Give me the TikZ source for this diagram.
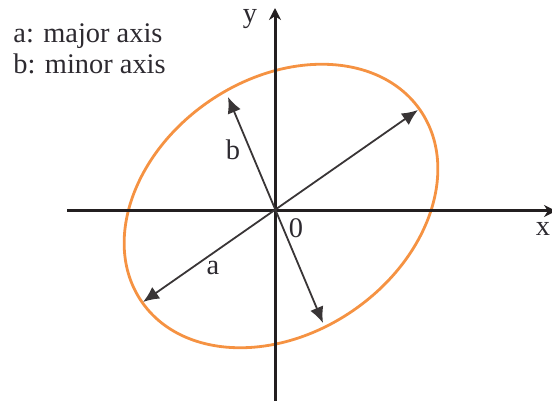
\documentclass[tikz,border=0pt]{standalone}
\usepackage{fontspec}
\setmainfont{Liberation Serif}
\usetikzlibrary{arrows.meta}
\definecolor{ellorange}{RGB}{245,146,66}
\definecolor{inkdark}{RGB}{35,31,32}
\definecolor{txtdark}{RGB}{45,42,48}
\begin{document}
\begin{tikzpicture}[x=0.5pt,y=-0.5pt,
  axisline/.style={draw=inkdark,line width=1.5pt},
  axistip/.style={-{Stealth[length=6pt,width=6pt]}},
  axisarrow/.style={draw=inkdark!90,line width=0.9pt,{Latex[length=8pt,width=7pt]}-{Latex[length=8pt,width=7pt]}},
  lbl/.style={text=txtdark,font=\fontsize{14.2}{16}\selectfont,inner sep=0pt},
  ellipseline/.style={draw=ellorange,line width=1.4pt}]
\useasboundingbox (0,0) rectangle (552,401);
% coordinates
\coordinate (O) at (275,211);
\coordinate (xl) at (67,211);
\coordinate (xr) at (556,211);
\coordinate (yb) at (275,402);
\coordinate (yt) at (275,8);
\coordinate (C) at (281,206);
\coordinate (A1) at (418,110);
\coordinate (A2) at (143,302);
\coordinate (B1) at (228,97);
\coordinate (B2) at (323,323);
% ellipse
\draw[ellipseline] (C) ellipse [x radius=84.5pt, y radius=63.5pt, rotate=34.4];
% axes
\draw[axisline,axistip] (xl) -- (xr);
\draw[axisline,axistip] (yb) -- (yt);
% major and minor axes
\draw[axisarrow] (A2) -- (A1);
\draw[axisarrow] (B1) -- (B2);
% labels
\node[lbl,anchor=base west] (la) at (13,43) {a: major axis};
\node[lbl,anchor=base west] (lb) at (13,74) {b: minor axis};
\node[lbl] (ylab) at (250,19) {y};
\node[lbl] (xlab) at (543,229) {x};
\node[lbl] (zero) at (296,228) {0};
\node[lbl] (alab) at (213,268) {a};
\node[lbl] (blab) at (233,150) {b};
\end{tikzpicture}
\end{document}
